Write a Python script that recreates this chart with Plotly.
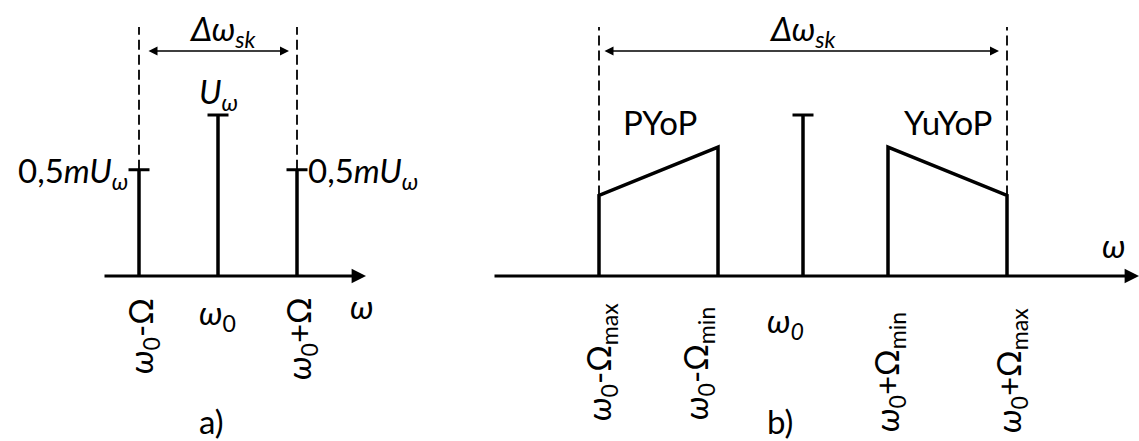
import plotly.graph_objects as go

# ---------------- data ----------------
# panel a) : AM spectrum with a single modulating tone
a_freq = [-1.0, 0.0, 1.0]          # in units of Omega, relative to omega0
a_amp = [0.66, 1.0, 0.66]          # relative to U_omega
a_tick_labels = ["<i>ω</i><sub>0</sub>-Ω", "<i>ω</i><sub>0</sub>", "<i>ω</i><sub>0</sub>+Ω"]

# panel b) : AM spectrum with a band of modulating frequencies
b_carrier_freq = [0.0]
b_carrier_amp = [1.0]
b_lsb_freq = [-2.4, -1.0]          # omega0-Omega_max, omega0-Omega_min
b_lsb_amp = [0.5, 0.8]
b_usb_freq = [1.0, 2.4]            # omega0+Omega_min, omega0+Omega_max
b_usb_amp = [0.8, 0.5]
b_tick_freq = [-2.4, -1.0, 0.0, 1.0, 2.4]
b_tick_labels = ["<i>ω</i><sub>0</sub>-Ω<sub>max</sub>", "<i>ω</i><sub>0</sub>-Ω<sub>min</sub>",
                 "<i>ω<sub>0</sub></i>", "<i>ω</i><sub>0</sub>+Ω<sub>min</sub>",
                 "<i>ω</i><sub>0</sub>+Ω<sub>max</sub>"]
band_names = ["PYoP", "YuYoP"]

FONT = "Lato"
K = "black"
W, H = 1139, 441
FS = 33

fig = go.Figure()

def px_a(p):   # pixel helper for label placement in panel a
    return (p - 218) / 79
def px_b(p):
    return (p - 803) / 85
def py(p):
    return (276 - p) / 161

LW = 3.5
# ---- panel a ----
for f, a in zip(a_freq, a_amp):
    fig.add_trace(go.Scatter(x=[f, f], y=[0, a], mode="lines", line=dict(color=K, width=LW),
                             xaxis="x", yaxis="y", hoverinfo="skip"))
fig.add_trace(go.Scatter(x=a_freq, y=a_amp, mode="markers",
                         marker=dict(symbol="line-ew", size=15, line=dict(color=K, width=3)),
                         xaxis="x", yaxis="y", hoverinfo="skip"))
top = py(27)
DASH = dict(color=K, width=1.8, dash="10px,5px")
for f, a in [(a_freq[0], a_amp[0]), (a_freq[-1], a_amp[-1])]:
    fig.add_trace(go.Scatter(x=[f, f], y=[a, top], mode="lines", line=DASH,
                             xaxis="x", yaxis="y", hoverinfo="skip"))

# ---- panel b ----
fig.add_trace(go.Scatter(x=[b_carrier_freq[0]] * 2, y=[0, b_carrier_amp[0]], mode="lines",
                         line=dict(color=K, width=LW), xaxis="x2", yaxis="y", hoverinfo="skip"))
fig.add_trace(go.Scatter(x=b_carrier_freq, y=b_carrier_amp, mode="markers",
                         marker=dict(symbol="line-ew", size=15, line=dict(color=K, width=3)),
                         xaxis="x2", yaxis="y", hoverinfo="skip"))
for fr, am in [(b_lsb_freq, b_lsb_amp), (b_usb_freq, b_usb_amp)]:
    fig.add_trace(go.Scatter(x=[fr[0], fr[0], fr[1], fr[1]], y=[0, am[0], am[1], 0], mode="lines",
                             line=dict(color=K, width=LW), xaxis="x2", yaxis="y", hoverinfo="skip"))
for f, a in [(b_lsb_freq[0], b_lsb_amp[0]), (b_usb_freq[-1], b_usb_amp[-1])]:
    fig.add_trace(go.Scatter(x=[f, f], y=[a, top], mode="lines", line=DASH,
                             xaxis="x2", yaxis="y", hoverinfo="skip"))

ann = []
def arrow(x0, x1, y, xr, both=False, width=1.5, size=1.2):
    ann.append(dict(x=x1, y=y, ax=x0, ay=y, xref=xr, yref="y", axref=xr, ayref="y",
                    text="", showarrow=True, arrowhead=2, arrowsize=size, arrowwidth=width,
                    arrowcolor=K, arrowside="end+start" if both else "end",
                    startarrowhead=2, startarrowsize=size, standoff=0, startstandoff=0))

def txt(x, y, s, xr, size=FS, angle=0, xanchor="center", yanchor="middle"):
    ann.append(dict(x=x, y=y, xref=xr, yref="y", text=s, showarrow=False, textangle=angle,
                    xanchor=xanchor, yanchor=yanchor, borderpad=0,
                    font=dict(family=FONT, size=size, color=K)))

# axes arrows
arrow(px_a(103), px_a(366), 0, "x", width=3.2, size=0.9)
arrow(px_b(493), px_b(1139), 0, "x2", width=3.2, size=0.9)
# bandwidth arrows
arrow(px_a(147), px_a(289), py(51), "x", both=True)
arrow(px_b(603), px_b(999), py(51), "x2", both=True)

# panel a texts
txt(px_a(222), py(30), "<i>Δω<sub>sk</sub></i>", "x")
txt(px_a(218), py(93), "<i>U<sub>ω</sub></i>", "x")
txt(px_a(129), py(172), "0,5<i>mU<sub>ω</sub></i>", "x", xanchor="right")
txt(px_a(307), py(172), "0,5<i>mU<sub>ω</sub></i>", "x", xanchor="left")
txt(px_a(142), py(336), a_tick_labels[0], "x", angle=-90)
txt(px_a(217), py(314), a_tick_labels[1], "x")
txt(px_a(300), py(339), a_tick_labels[2], "x", angle=-90)
txt(px_a(362), py(306), "<i>ω</i>", "x")
txt(px_a(211), py(421), "a)", "x")

# panel b texts
txt(px_b(802), py(30), "<i>Δω<sub>sk</sub></i>", "x2")
txt(px_b(660), py(122), band_names[0], "x2")
txt(px_b(948), py(122), band_names[1], "x2")
b_lab_px = [(600, 362), (697, 364), (785, 322), (888, 372), (1010, 371)]
for lab, (lx, ly) in zip(b_tick_labels, b_lab_px):
    if lab == "<i>ω<sub>0</sub></i>":
        txt(px_b(lx), py(ly), lab, "x2")
    else:
        txt(px_b(lx), py(ly), lab, "x2", angle=-90)
txt(px_b(1114), py(245), "<i>ω</i>", "x2")
txt(px_b(780), py(421), "b)", "x2")

ax_common = dict(visible=False, showgrid=False, zeroline=False, fixedrange=True)
fig.update_layout(
    width=W, height=H, margin=dict(l=0, r=0, t=0, b=0, pad=0),
    paper_bgcolor="white", plot_bgcolor="white", showlegend=False,
    xaxis=dict(domain=[0, 1], range=[px_a(0), px_a(W)], **ax_common),
    xaxis2=dict(domain=[0, 1], range=[px_b(0), px_b(W)], overlaying="x", anchor="y", **ax_common),
    yaxis=dict(domain=[0, 1], range=[py(H), py(0)], **ax_common),
    annotations=ann,
)

fig.write_html("out.html", config={"displayModeBar": False},
               post_script="document.body.style.margin='0';")
